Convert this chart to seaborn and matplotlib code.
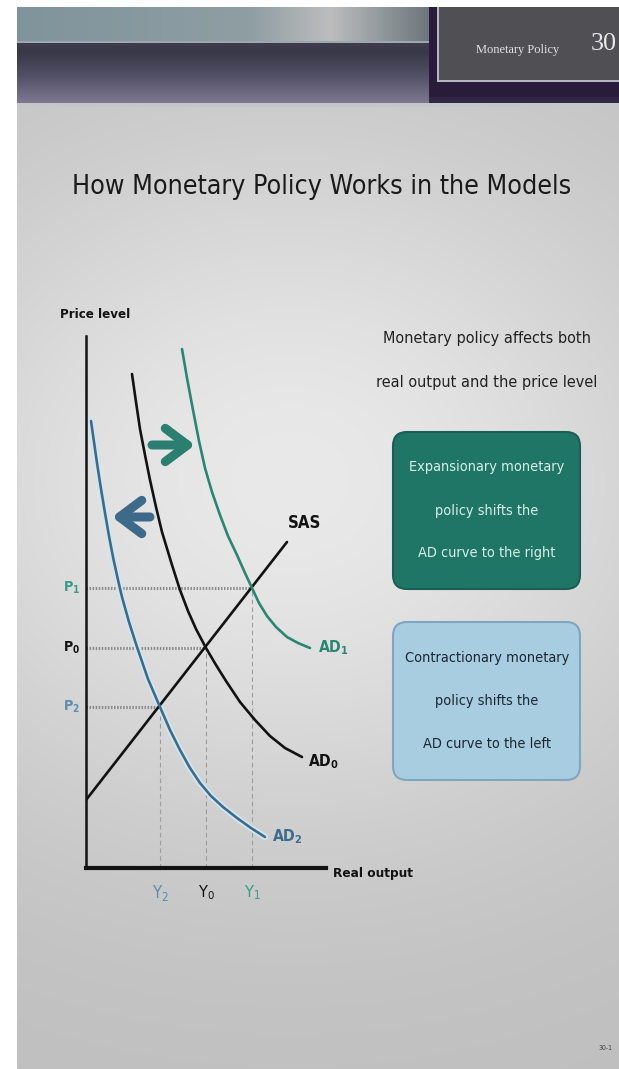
import numpy as np
import pandas as pd
import matplotlib
matplotlib.use("Agg")
import matplotlib.pyplot as plt
import seaborn as sns
from matplotlib.patches import FancyBboxPatch
from matplotlib import font_manager as fm

# ---------------- data (arbitrary units) ----------------
sas_x = [0, 201]
sas_y = [68, 326]

ad0_x = [46, 50, 54, 59, 64, 70, 76, 86, 94, 102, 110, 120, 130, 140, 154, 169, 184, 199, 216]
ad0_y = [494, 466, 439, 413, 388, 361, 336, 303, 278, 257, 239, 220, 203, 187, 166, 148, 132, 120, 111]

ad1_x = [96, 101, 107, 113, 119, 126, 134, 142, 151, 159, 166, 173, 181, 190, 201, 212, 224]
ad1_y = [519, 490, 458, 427, 400, 376, 353, 332, 313, 295, 280, 265, 252, 241, 231, 225, 220]

ad2_x = [5, 8, 11, 15, 19, 23, 27, 32, 36, 43, 51, 62, 74, 84, 94, 104, 114, 125, 137, 151, 165, 179]
ad2_y = [447, 426, 405, 379, 355, 332, 311, 288, 271, 246, 221, 189, 161, 138, 118, 100, 85, 72, 61, 50, 40, 31]

eq_subscripts = ["1", "0", "2"]
price_levels = [280, 220, 161]
output_levels = [166, 120, 74]

title = "How Monetary Policy Works in the Models"
side_text = ["Monetary policy affects both", "real output and the price level"]
box1_text = ["Expansionary monetary", "policy shifts the", "AD curve to the right"]
box2_text = ["Contractionary monetary", "policy shifts the", "AD curve to the left"]
header_text = "Monetary Policy"
slide_no = "30"
page_no = "30-1"

# ---------------- fonts ----------------
sns.set_theme(style="white")
ttf = fm.fontManager.ttflist
names = {f.name for f in ttf}
if "Liberation Sans Narrow" in names:
    FAM, STRETCH = "Liberation Sans Narrow", "normal"
elif any(f.name == "DejaVu Sans" and str(f.stretch).lower() in ("condensed", "semi-condensed")
         for f in ttf):
    FAM, STRETCH = "DejaVu Sans", "condensed"
elif "Roboto" in names:
    FAM, STRETCH = "Roboto", "normal"
else:
    FAM, STRETCH = "Liberation Sans", "normal"
plt.rcParams["font.family"] = [FAM, "DejaVu Sans"]
plt.rcParams["font.stretch"] = STRETCH
plt.rcParams["mathtext.default"] = "regular"

TEAL = "#2a8674"
TEAL_LBL = "#3a9a88"
BLUE = "#3c6c8c"
BLUE_LBL = "#5b8db0"
BLACK = "#121212"
lbl_colors = [TEAL_LBL, BLACK, BLUE_LBL]

W, H = 619, 1069
fig = plt.figure(figsize=(W / 100, H / 100), dpi=100)

# ---------------- background (slide) ----------------
bg = fig.add_axes([0, 0, 1, 1])
yy, xx = np.mgrid[0:H, 0:W].astype(float)
img = np.ones((H, W, 3))
gval = 0.745 + 0.168 * np.exp(-((xx - 290) / 430) ** 2 - ((yy - 480) / 360) ** 2)
slide = (xx >= 17) & (yy >= 7)
img[slide] = gval[slide][:, None]

xs = [17, 250, 330, 360, 429]
cols = np.array([[0.50, 0.58, 0.61], [0.56, 0.62, 0.64], [0.74, 0.74, 0.74],
                 [0.64, 0.66, 0.67], [0.42, 0.46, 0.48]])
xr = np.arange(17, 429)
strip = np.stack([np.interp(xr, xs, cols[:, c]) for c in range(3)], axis=-1)
img[7:41, 17:429] = strip[None, :, :]
img[41:43, 17:429] = [0.62, 0.66, 0.70]
ys = [43, 52, 75, 103]
cols2 = np.array([[0.24, 0.24, 0.30], [0.22, 0.22, 0.28],
                  [0.32, 0.31, 0.40], [0.50, 0.48, 0.57]])
yr = np.arange(43, 103)
vstrip = np.stack([np.interp(yr, ys, cols2[:, c]) for c in range(3)], axis=-1)
img[43:103, 17:429] = vstrip[:, None, :]
img[7:97, 429:W] = [0.16, 0.11, 0.23]
img[7:81, 438:W] = [0.31, 0.31, 0.33]
img[7:82, 437:439] = [0.72, 0.72, 0.76]
img[80:82, 437:W] = [0.72, 0.72, 0.76]
img[97:103, 429:W] = [0.20, 0.16, 0.26]
img[103:107, 17:W] = [0.77, 0.78, 0.79]

bg.imshow(img, extent=(0, W, H, 0), interpolation="bilinear", aspect="auto")
bg.set_xlim(0, W)
bg.set_ylim(H, 0)
bg.axis("off")

texts_to_fit = []


def ptext(x, y, s, width, **kw):
    t = bg.text(x, y, s, **kw)
    texts_to_fit.append((t, width))
    return t


SERIF = ["Liberation Serif", "DejaVu Serif"]
ptext(518, 50, header_text, 83, ha="center", va="center", color="#e4e4e4",
      family=SERIF, stretch="normal", fontsize=12)
ptext(604, 44, slide_no, 26, ha="center", va="center", color="#e8e8e8",
      family=SERIF, stretch="normal", fontsize=20)

ptext(322, 194, title, 501, ha="center", va="baseline", color="#1a1a1a", fontsize=24)

side_objs = []
for i, line in enumerate(side_text):
    side_objs.append(ptext(487, 338 + 45 * i, line, 222, ha="center", va="center",
                           color="#222222", fontsize=14))

box_objs = []
for (y0, y1, fc, ec, tc, lines, wfirst) in [
    (432, 589, "#1f7667", "#1a5e54", "#d6efe9", box1_text, 158),
    (622, 780, "#a8cce0", "#7ea6c0", "#1b2733", box2_text, 165),
]:
    box = FancyBboxPatch((393, y0), 187, y1 - y0,
                         boxstyle="round,pad=0,rounding_size=14",
                         fc=fc, ec=ec, lw=1.5, zorder=2)
    bg.add_patch(box)
    cy = (y0 + y1) / 2
    for j, line in enumerate(lines):
        box_objs.append(ptext(487, cy + (j - 1) * 43, line, wfirst if j == 0 else None,
                              ha="center", va="center", color=tc, fontsize=14, zorder=3))

ptext(606, 1048, page_no, None, ha="center", va="center", color="#444444", fontsize=5)

# ---------------- chart ----------------
ax = fig.add_axes([86 / W, (H - 868) / H, 240 / W, 532 / H])
ax.patch.set_alpha(0)
ax.set_xticks([])
ax.set_yticks([])
for side in ["top", "right"]:
    ax.spines[side].set_visible(False)
ax.spines["left"].set_linewidth(1.8)
ax.spines["left"].set_color(BLACK)
ax.spines["bottom"].set_linewidth(3.0)
ax.spines["bottom"].set_color(BLACK)

for p, q in zip(price_levels, output_levels):
    ax.plot([0, q], [p, p], color="#8c8c8c", lw=2.2, ls=(0, (0.5, 0.5)), zorder=1)
    ax.plot([q, q], [0, p], color="#9c9c9c", lw=0.8, ls=(0, (4, 3)), zorder=1)

df_sas = pd.DataFrame({"x": sas_x, "y": sas_y})
kw = dict(ax=ax, sort=False, estimator=None)
sns.lineplot(data=df_sas, x="x", y="y", color=BLACK, lw=1.9, zorder=3, **kw)
sns.lineplot(x=ad2_x, y=ad2_y, color="#d3e6f0", lw=4.5, zorder=2, **kw)
sns.lineplot(x=ad2_x, y=ad2_y, color=BLUE, lw=1.9, zorder=3, **kw)
sns.lineplot(x=ad0_x, y=ad0_y, color=BLACK, lw=1.9, zorder=3, **kw)
sns.lineplot(x=ad1_x, y=ad1_y, color=TEAL, lw=1.9, zorder=3, **kw)
ax.set_xlabel("")
ax.set_ylabel("")
ax.set_xlim(0, 240)
ax.set_ylim(0, 532)

ax.annotate("", xy=(109, 423), xytext=(66, 423),
            arrowprops=dict(arrowstyle="->,head_length=0.8,head_width=0.6", lw=6.5,
                            color="#2a7f70", shrinkA=0, shrinkB=0, mutation_scale=20),
            annotation_clip=False)
ax.annotate("", xy=(26, 351), xytext=(64, 351),
            arrowprops=dict(arrowstyle="->,head_length=0.8,head_width=0.6", lw=6.5,
                            color="#3d6a88", shrinkA=0, shrinkB=0, mutation_scale=20),
            annotation_clip=False)


def ctext(x, y, s, width, **kw):
    t = ax.text(x, y, s, clip_on=False, **kw)
    texts_to_fit.append((t, width))
    return t


ctext(9, 553, "Price level", 70, ha="center", va="center", weight="bold", color=BLACK, fontsize=11)
ctext(247, -5, "Real output", 80, ha="left", va="center", weight="bold", color=BLACK, fontsize=11)
ctext(202, 345, "SAS", 33, ha="left", va="center", weight="bold", color=BLACK, fontsize=11)
ad_label_pos = [(232, 220), (222, 106), (186, 31)]
ad_colors = [TEAL, BLACK, BLUE]
for sub, (x, y), c in zip(eq_subscripts, ad_label_pos, ad_colors):
    ctext(x, y, "AD$_{%s}$" % sub, 31, ha="left", va="center", weight="bold", color=c, fontsize=11)
for sub, p, q, c in zip(eq_subscripts, price_levels, output_levels, lbl_colors):
    ctext(-14, p, "P$_{%s}$" % sub, 17, ha="center", va="center", weight="bold", color=c, fontsize=11)
    ctext(q, -25, "Y$_{%s}$" % sub, 17, ha="center", va="center", color=c, fontsize=11)

# ---------------- fit text widths ----------------
fig.canvas.draw()
renderer = fig.canvas.get_renderer()
for t, wpx in texts_to_fit:
    if wpx is None:
        continue
    bb = t.get_window_extent(renderer)
    t.set_fontsize(t.get_fontsize() * wpx / bb.width)
s = min(t.get_fontsize() for t in side_objs)
for t in side_objs:
    t.set_fontsize(s)
b = min(box_objs[0].get_fontsize(), box_objs[3].get_fontsize())
for t in box_objs:
    t.set_fontsize(b)

fig.savefig("out.png", dpi=100)
